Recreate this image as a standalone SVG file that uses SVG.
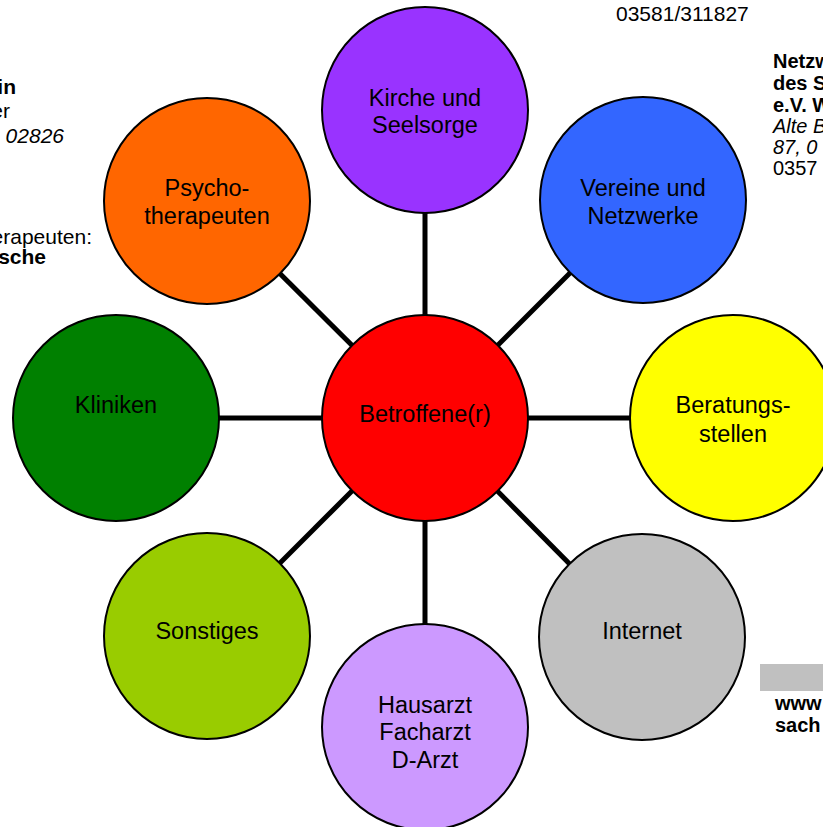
<svg xmlns="http://www.w3.org/2000/svg" width="823" height="827" viewBox="0 0 823 827">
<style>
.node circle{stroke:#000;stroke-width:2}
.lbl{font-family:"Liberation Sans",Arial,sans-serif;font-size:23.5px;fill:#000;text-anchor:middle}
.side{font-family:"Liberation Sans",Arial,sans-serif;fill:#000}
.l{font-size:21px;text-anchor:end}
.r{font-size:20px}
.b{font-weight:bold}
.i{font-style:italic}
#connectors line{stroke:#000;stroke-width:5}
</style>
<rect width="823" height="827" fill="#fff"/>
<g id="side-text" class="side">
<text x="616" y="21" font-size="21">03581/311827</text>
<text class="l b" x="16" y="94">in</text>
<text class="l" x="10" y="118">er</text>
<text class="l i" x="64" y="143">02826</text>
<text class="l" x="92" y="244">erapeuten:</text>
<text class="l b" x="46" y="264">sche</text>
<text class="r b" x="773" y="68">Netzw</text>
<text class="r b" x="773" y="90">des S</text>
<text class="r b" x="773" y="112">e.V. W</text>
<text class="r i" x="773" y="133">Alte B</text>
<text class="r i" x="773" y="154">87, 0</text>
<text class="r" x="773" y="175">0357</text>
<rect x="760" y="664" width="70" height="27" fill="#C0C0C0"/>
<text class="r b" x="775" y="710">www</text>
<text class="r b" x="775" y="732">sach</text>
</g>
<g id="connectors">
<line x1="425" y1="418" x2="425" y2="110"/>
<line x1="425" y1="418" x2="643" y2="200"/>
<line x1="425" y1="418" x2="733" y2="418"/>
<line x1="425" y1="418" x2="642" y2="637"/>
<line x1="425" y1="418" x2="425" y2="727"/>
<line x1="425" y1="418" x2="207" y2="636"/>
<line x1="425" y1="418" x2="116" y2="418"/>
<line x1="425" y1="418" x2="207" y2="201"/>
</g>
<g id="kirche" class="node"><circle cx="425" cy="110" r="103" fill="#9933FF"/><text class="lbl" x="425" y="106">Kirche und</text><text class="lbl" x="425" y="133">Seelsorge</text></g>
<g id="vereine" class="node"><circle cx="643" cy="200" r="103" fill="#3366FF"/><text class="lbl" x="643" y="196">Vereine und</text><text class="lbl" x="643" y="224">Netzwerke</text></g>
<g id="beratung" class="node"><circle cx="733" cy="418" r="103" fill="#FFFF00"/><text class="lbl" x="733" y="413">Beratungs-</text><text class="lbl" x="733" y="442">stellen</text></g>
<g id="internet" class="node"><circle cx="642" cy="637" r="103" fill="#C0C0C0"/><text class="lbl" x="642" y="639">Internet</text></g>
<g id="hausarzt" class="node"><circle cx="425" cy="727" r="103" fill="#CC99FF"/><text class="lbl" x="425" y="713">Hausarzt</text><text class="lbl" x="425" y="740">Facharzt</text><text class="lbl" x="425" y="768">D-Arzt</text></g>
<g id="sonstiges" class="node"><circle cx="207" cy="636" r="103" fill="#99CC00"/><text class="lbl" x="207" y="639">Sonstiges</text></g>
<g id="kliniken" class="node"><circle cx="116" cy="418" r="103" fill="#008000"/><text class="lbl" x="116" y="413">Kliniken</text></g>
<g id="psycho" class="node"><circle cx="207" cy="201" r="103" fill="#FF6600"/><text class="lbl" x="207" y="196">Psycho-</text><text class="lbl" x="207" y="224">therapeuten</text></g>
<g id="betroffene" class="node"><circle cx="425" cy="418" r="103" fill="#FF0000"/><text class="lbl" x="425" y="422">Betroffene(r)</text></g>
</svg>
